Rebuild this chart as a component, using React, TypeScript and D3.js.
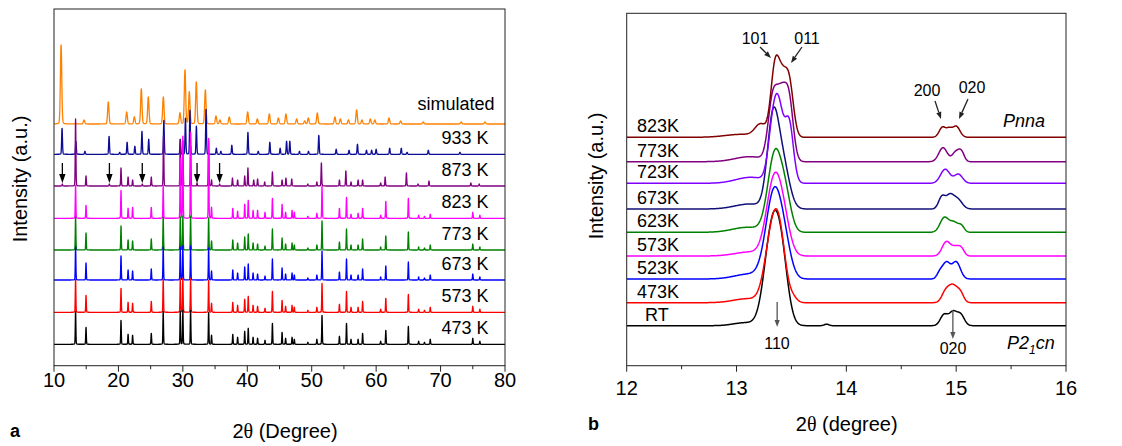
import React from "react";
import * as d3 from "d3";

const FONT = "'Liberation Sans', Arial, Helvetica, sans-serif";

// ---------------- Panel a : wide-range XRD patterns ----------------
const panelANames = ["simulated", "933 K", "873 K", "823 K", "773 K", "673 K", "573 K", "473 K"];
const panelAColors = ["#ff8000", "#0c0c96", "#800080", "#ff00ff", "#008000", "#0000ff", "#ff0000", "#000000"];
const panelAOffsets = [241.7, 211.4, 179.7, 147.4, 115.7, 85.7, 53.4, 21.4];
const panelATicks = [10, 20, 30, 40, 50, 60, 70, 80];
const panelAMinorTicks = [15, 25, 35, 45, 55, 65, 75];
const panelAArrows = [11.3, 18.6, 23.7, 32.2, 35.7];

const simPos = [11.1, 14.66, 18.43, 21.28, 22.47, 23.55, 24.64, 26.97, 29.55, 30.33, 31.0, 32.09, 33.49, 35.14, 35.76, 37.2, 40.06, 41.56, 43.42, 44.82, 46.0, 47.66, 48.9, 49.47, 50.87, 53.6, 54.45, 55.7, 56.97, 57.8, 59.1, 59.8, 62.0, 63.8, 67.3, 73.2, 76.9];
const simInt = [79, 4, 22, 12, 7, 35, 27, 27, 11, 54, 32, 42, 34, 8, 4, 7, 12, 5, 10, 6, 10, 5, 3, 6, 11, 7, 5, 4, 14, 4, 5, 4, 6, 3, 2, 2, 2];

const k933Pos = [11.25, 13.4, 14.8, 18.55, 20.2, 21.35, 22.55, 23.65, 24.7, 27.05, 29.6, 30.4, 31.1, 32.1, 33.6, 35.2, 35.9, 37.6, 40.1, 41.7, 43.5, 45.1, 46.1, 46.6, 48.1, 49.5, 51.1, 53.8, 55.8, 57.1, 58.5, 59.3, 60.0, 62.1, 63.9, 64.8, 68.1, 73.0];
const k933Int = [26, 13, 3, 18, 2, 12, 8, 23, 15, 34, 15, 36, 44, 28, 45, 6, 3, 9, 22, 3, 12, 6, 13, 13, 3, 3, 19, 5, 4, 10, 4, 4, 5, 6, 6, 2, 4, 2];

const k873Pos = [11.3, 13.35, 14.97, 18.6, 20.4, 21.5, 22.2, 23.7, 25.1, 27.0, 29.6, 30.0, 31.2, 32.2, 34.0, 34.45, 35.7, 37.7, 38.5, 39.6, 40.1, 41.0, 41.6, 42.7, 43.9, 45.4, 46.0, 46.9, 49.4, 50.8, 51.5, 54.3, 55.3, 56.1, 57.2, 57.9, 60.7, 61.4, 64.7, 66.5, 68.2, 74.7, 76.0];
const k873Int = [2, 67, 10, 2, 18, 9, 6, 2, 9, 50, 46, 45, 40, 3, 45, 6, 2, 8, 6, 10, 18, 6, 7, 4, 14, 6, 8, 7, 2, 4, 23, 6, 15, 4, 6, 6, 3, 9, 13, 2, 5, 3, 2];

// room-temperature phase (P2_1cn) reflections
const rtPhasePos = [13.35, 14.97, 20.4, 21.5, 22.2, 25.1, 26.95, 29.6, 30.0, 31.2, 34.0, 34.45, 37.75, 38.5, 39.6, 40.15, 40.9, 41.6, 42.75, 43.9, 45.4, 45.95, 46.95, 47.3, 49.4, 50.8, 51.6, 54.3, 55.4, 56.1, 57.2, 57.9, 60.7, 61.5, 65.0, 66.6, 67.5, 68.4, 75.0, 76.1];
// 473-773 K intensities
const rtPhaseInt = [33, 17, 24, 10, 9, 11, 33, 33, 34, 34, 32, 9, 10, 7, 13, 16, 7, 6, 4, 21, 12, 6, 7, 5, 2, 5, 29, 8, 21, 5, 5, 11, 3, 14, 18, 3, 2, 5, 6, 3];
// 823 K intensities
const k823Int = [33, 13, 28, 10, 11, 11, 33, 60, 82, 86, 80, 11, 10, 7, 14, 18, 8, 8, 6, 20, 14, 6, 8, 6, 2, 5, 32, 10, 21, 4, 5, 10, 3, 17, 20, 3, 2, 4, 6, 3];

const panelAPeaks: [number[], number[]][] = [
  [simPos, simInt],
  [k933Pos, k933Int],
  [k873Pos, k873Int],
  [rtPhasePos, k823Int],
  [rtPhasePos, rtPhaseInt],
  [rtPhasePos, rtPhaseInt],
  [rtPhasePos, rtPhaseInt],
  [rtPhasePos, rtPhaseInt],
];
const panelAWidths = [0.25, 0.15, 0.12, 0.11, 0.11, 0.11, 0.11, 0.11];

// ---------------- Panel b : 12-16 degree detail ----------------
const panelBNames = ["823K", "773K", "723K", "673K", "623K", "573K", "523K", "473K", "RT"];
const panelBColors = ["#800000", "#800080", "#8000ff", "#10107a", "#008000", "#ff00ff", "#0000ff", "#ff0000", "#000000"];
const panelBOffsets = [228.4, 204, 182.4, 156.7, 133.4, 109.7, 86.7, 63, 40];
const panelBTicks = [12, 13, 14, 15, 16];
const panelBMinorTicks = [12.5, 13.5, 14.5, 15.5];

// components: [centre (deg), height, fwhm (deg)]
const k823Comp = [[13.05, 3, 0.35], [13.22, 12, 0.12], [13.35, 67, 0.09], [13.415, 45, 0.09], [13.48, 52, 0.09], [14.875, 10, 0.07], [14.935, 7, 0.06], [15.0, 11, 0.08]];
const k773Comp = [[13.12, 5, 0.32], [13.33, 60, 0.1], [13.41, 58, 0.1], [13.48, 55, 0.09], [14.88, 14, 0.09], [15.0, 10, 0.08], [15.05, 8, 0.06]];
const k723Comp = [[13.13, 6, 0.32], [13.33, 50, 0.1], [13.39, 62, 0.1], [13.48, 58, 0.09], [14.9, 14, 0.1], [15.02, 9, 0.09]];
const k673Comp = [[13.12, 5, 0.32], [13.33, 84, 0.12], [13.42, 45, 0.14], [14.87, 12, 0.07], [14.94, 12, 0.08], [15.01, 10, 0.1]];
const k623Comp = [[13.1, 5, 0.32], [13.35, 78, 0.15], [13.45, 28, 0.12], [14.89, 14, 0.09], [14.98, 10, 0.1], [15.05, 5, 0.06]];
const k573Comp = [[13.12, 4, 0.32], [13.34, 72, 0.16], [13.43, 28, 0.14], [14.91, 14, 0.09], [15.0, 9, 0.09], [15.05, 5, 0.06]];
const k523Comp = [[13.12, 5, 0.32], [13.34, 84, 0.17], [13.44, 25, 0.14], [14.85, 6, 0.06], [14.91, 16, 0.08], [15.0, 17, 0.09]];
const k473Comp = [[13.1, 4, 0.3], [13.32, 62, 0.15], [13.395, 52, 0.13], [13.52, 4, 0.08], [14.9, 9, 0.08], [14.97, 17, 0.1], [15.04, 8, 0.07]];
const rtComp = [[13.08, 3, 0.25], [13.32, 90, 0.16], [13.41, 56, 0.14], [13.82, 1.5, 0.05], [14.89, 11, 0.08], [14.97, 13, 0.08], [15.04, 11, 0.08]];
const panelBComps = [k823Comp, k773Comp, k723Comp, k673Comp, k623Comp, k573Comp, k523Comp, k473Comp, rtComp];

// ---------------- helpers ----------------
function pseudoVoigt(d: number, w: number, eta: number) {
  const t = (4 * d * d) / (w * w);
  return eta / (1 + t) + (1 - eta) * Math.exp(-Math.LN2 * t);
}

function patternA(xs: number[], pos: number[], ints: number[], w: number) {
  return xs.map((x) => {
    let s = 0;
    for (let i = 0; i < pos.length; i++) {
      const d = x - pos[i];
      if (Math.abs(d) > 3) continue;
      s += ints[i] * pseudoVoigt(d, w, 0.12);
    }
    return s;
  });
}

function patternB(xs: number[], comps: number[][]) {
  return xs.map((x) => {
    let s = 0;
    for (const [c, h, w] of comps) s += h * pseudoVoigt(x - c, w, 0.0);
    return s;
  });
}

function Arrow({ x1, y1, x2, y2, color, head = 8, hw = 3 }: any) {
  const ang = Math.atan2(y2 - y1, x2 - x1);
  const bx = x2 - head * Math.cos(ang);
  const by = y2 - head * Math.sin(ang);
  const px = -Math.sin(ang) * hw;
  const py = Math.cos(ang) * hw;
  return (
    <g>
      <line x1={x1} y1={y1} x2={bx} y2={by} stroke={color} strokeWidth={1.3} />
      <polygon points={`${x2},${y2} ${bx + px},${by + py} ${bx - px},${by - py}`} fill={color} />
    </g>
  );
}

export default function App() {
  const aL = 54, aR = 505, aT = 9, aB = 365.7;
  const xA = d3.scaleLinear().domain([10, 80]).range([aL, aR]);
  const yA = d3.scaleLinear().domain([0, aB - aT]).range([aB, aT]);
  const gridA = d3.range(10, 80.0001, 0.01);
  const lineA = d3.line<[number, number]>().x((d) => xA(d[0])).y((d) => yA(d[1]));

  const tracesA = panelANames.map((name, i) => {
    const [pos, ints] = panelAPeaks[i];
    const vals = patternA(gridA, pos, ints, panelAWidths[i]);
    const pts: [number, number][] = gridA.map((x, k) => [x, vals[k] + panelAOffsets[i]]);
    return { name, color: panelAColors[i], d: lineA(pts) as string, off: panelAOffsets[i] };
  });

  const bL = 626.7, bR = 1066, bT = 13.3, bB = 365.7;
  const xB = d3.scaleLinear().domain([12, 16]).range([bL, bR]);
  const yB = d3.scaleLinear().domain([0, bB - bT]).range([bB, bT]);
  const gridB = d3.range(12, 16.0001, 0.005);
  const lineB = d3.line<[number, number]>().x((d) => xB(d[0])).y((d) => yB(d[1]));
  const tracesB = panelBNames.map((name, i) => {
    const vals = patternB(gridB, panelBComps[i]);
    const pts: [number, number][] = gridB.map((x, k) => [x, vals[k] + panelBOffsets[i]]);
    return { name, color: panelBColors[i], d: lineB(pts) as string, off: panelBOffsets[i] };
  });

  const axisColor = "#222";

  return (
    <svg width={1122} height={446} viewBox="0 0 1122 446" style={{ position: "absolute", left: 0, top: 0, background: "#fff" }} fontFamily={FONT}>
      <rect x={0} y={0} width={1122} height={446} fill="#fff" />
      <defs>
        <clipPath id="clipA"><rect x={aL} y={aT} width={aR - aL} height={aB - aT} /></clipPath>
        <clipPath id="clipB"><rect x={bL} y={bT} width={bR - bL} height={bB - bT} /></clipPath>
      </defs>

      {/* ---------- panel a ---------- */}
      <g clipPath="url(#clipA)">
        {tracesA.map((t) => (
          <path key={t.name} d={t.d} fill="none" stroke={t.color} strokeWidth={1.3} strokeLinejoin="round" />
        ))}
      </g>
      <rect x={aL} y={aT} width={aR - aL} height={aB - aT} fill="none" stroke={axisColor} strokeWidth={1} />
      {panelATicks.map((t) => (
        <g key={t}>
          <line x1={xA(t)} x2={xA(t)} y1={aB} y2={aB + 6} stroke={axisColor} />
          <text x={xA(t)} y={aB + 21} fontSize={20} textAnchor="middle">{t}</text>
        </g>
      ))}
      {panelAMinorTicks.map((t) => (
        <line key={t} x1={xA(t)} x2={xA(t)} y1={aB} y2={aB + 3.5} stroke={axisColor} />
      ))}
      {tracesA.map((t, i) => (
        <text key={t.name} x={i === 0 ? 417.5 : 441.5} y={yA(t.off) - (i === 0 ? 14 : 10)} fontSize={18}>{t.name}</text>
      ))}
      {panelAArrows.map((p, i) => (
        <Arrow key={i} x1={xA(p)} y1={yA(panelAOffsets[2] + 23)} x2={xA(p)} y2={yA(panelAOffsets[2] + 3)} color="#000" head={9} hw={3.2} />
      ))}
      <text x={285} y={438} fontSize={20} textAnchor="middle">2<tspan fontFamily="'Liberation Serif', 'Times New Roman', serif">θ</tspan> (Degree)</text>
      <text transform={`translate(27,179) rotate(-90)`} fontSize={20} textAnchor="middle">Intensity (a.u.)</text>
      <text x={10} y={437} fontSize={18} fontWeight="bold">a</text>

      {/* ---------- panel b ---------- */}
      <g clipPath="url(#clipB)">
        {[...tracesB].reverse().map((t) => (
          <path key={t.name} d={t.d} fill="none" stroke={t.color} strokeWidth={1.5} strokeLinejoin="round" />
        ))}
      </g>
      <rect x={bL} y={bT} width={bR - bL} height={bB - bT} fill="none" stroke={axisColor} strokeWidth={1} />
      {panelBTicks.map((t) => (
        <g key={t}>
          <line x1={xB(t)} x2={xB(t)} y1={bB} y2={bB + 6} stroke={axisColor} />
          <text x={xB(t)} y={bB + 29} fontSize={20} textAnchor="middle">{t}</text>
        </g>
      ))}
      {panelBMinorTicks.map((t) => (
        <line key={t} x1={xB(t)} x2={xB(t)} y1={bB} y2={bB + 3.5} stroke={axisColor} />
      ))}
      {tracesB.map((t) => (
        <text key={t.name} x={t.name === "RT" ? 645 : 637} y={yB(t.off) - 5} fontSize={18}>{t.name}</text>
      ))}
      <text x={755} y={44} fontSize={16} textAnchor="middle">101</text>
      <text x={807} y={44} fontSize={16} textAnchor="middle">011</text>
      <Arrow x1={760} y1={47} x2={771} y2={58} color="#222" head={7} hw={2.6} />
      <Arrow x1={802} y1={47} x2={791} y2={63} color="#222" head={7} hw={2.6} />
      <text x={927} y={96} fontSize={16} textAnchor="middle">200</text>
      <text x={972} y={93} fontSize={16} textAnchor="middle">020</text>
      <Arrow x1={935} y1={101} x2={941} y2={119} color="#222" head={7} hw={2.6} />
      <Arrow x1={968} y1={99} x2={959} y2={119} color="#222" head={7} hw={2.6} />
      <text x={1003} y={127} fontSize={18} fontStyle="italic">Pnna</text>
      <Arrow x1={xB(13.37)} y1={302} x2={xB(13.37)} y2={327} color="#555" head={7} hw={2.6} />
      <text x={777} y={349} fontSize={16} textAnchor="middle">110</text>
      <Arrow x1={xB(14.97)} y1={310} x2={xB(14.97)} y2={339} color="#555" head={7} hw={2.6} />
      <text x={953} y={354} fontSize={16} textAnchor="middle">020</text>
      <text x={1007} y={349} fontSize={18} fontStyle="italic">P2<tspan dy={5} fontSize={12}>1</tspan><tspan dy={-5}>cn</tspan></text>
      <text x={846.7} y={431} fontSize={20} textAnchor="middle">2<tspan fontFamily="'Liberation Serif', 'Times New Roman', serif">θ</tspan> (degree)</text>
      <text transform={`translate(603,176) rotate(-90)`} fontSize={20} textAnchor="middle">Intensity (a.u.)</text>
      <text x={588} y={430} fontSize={18} fontWeight="bold">b</text>
    </svg>
  );
}
